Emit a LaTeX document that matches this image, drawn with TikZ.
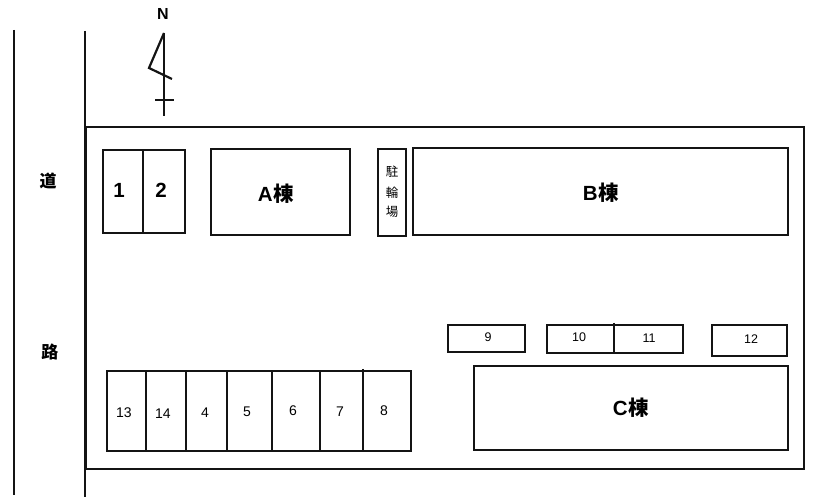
\documentclass[tikz,border=0pt]{standalone}
\usepackage{fontspec}
\usepackage{tikz}
\setmainfont{Liberation Sans}
\newfontfamily\cjk{Noto Sans CJK JP}
\tikzset{wall/.style = {line width = 2.2pt, black!92}}
\tikzset{num/.style = {font = \fontsize{14}{14}\selectfont, inner sep = 0}}
\tikzset{smallnum/.style = {font = \fontsize{12.5}{12.5}\selectfont, inner sep = 0}}
\tikzset{block/.style = {font = \bfseries\fontsize{20.5}{20.5}\selectfont, inner sep = 0}}
\tikzset{road/.style = {font = \cjk\bfseries\fontsize{17}{17}\selectfont, inner sep = 0}}
\tikzset{bike/.style = {font = \cjk\fontsize{12.5}{12.5}\selectfont, inner sep = 0}}

\begin{document}
\begin{tikzpicture}[x=1pt, y=-1pt]
    \useasboundingbox (0, 0) rectangle (820, 502);

    \draw [wall] (14, 30) -- (14, 495);
    \draw [wall] (85, 31) -- (85, 497);
    \draw [wall] (86, 127) rectangle (804, 469);
    \draw [wall] (85, 127) -- (85, 469);

    \node [block, font=\bfseries\fontsize{16}{16}\selectfont] (north) at (163, 14.5) {N};
    \draw [wall] (164, 33) -- (164, 116);
    \draw [wall] (164, 33) -- (149, 68) -- (172, 79);
    \draw [wall] (155, 100) -- (174, 100);

    \node [road] (roadtop) at (48, 181) {道};
    \node [road] (roadbot) at (50, 352) {路};

    \draw [wall] (103, 150) rectangle (185, 233);
    \draw [wall] (143, 150) -- (143, 233);
    \node [block] (lot1) at (119, 190) {1};
    \node [block] (lot2) at (161, 190) {2};

    \draw [wall] (211, 149) rectangle (350, 235);
    \node [block] (blocka) at (276, 194) {A\kern1pt{\cjk 棟}};

    \draw [wall] (378, 149) rectangle (406, 236);
    \node [bike] (bike1) at (392, 172) {駐};
    \node [bike] (bike2) at (392, 193) {輪};
    \node [bike] (bike3) at (392, 212) {場};

    \draw [wall] (413, 148) rectangle (788, 235);
    \node [block] (blockb) at (601, 193) {B\kern1pt{\cjk 棟}};

    \draw [wall] (448, 325) rectangle (525, 352);
    \node [smallnum] (lot9) at (488, 337) {9};
    \draw [wall] (547, 325) rectangle (683, 353);
    \draw [wall] (614, 323) -- (614, 353);
    \node [smallnum] (lot10) at (579, 337) {10};
    \node [smallnum] (lot11) at (649, 338) {11};
    \draw [wall] (712, 325) rectangle (787, 356);
    \node [smallnum] (lot12) at (751, 339) {12};

    \draw [wall] (474, 366) rectangle (788, 450);
    \node [block] (blockc) at (631, 408) {C\kern1pt{\cjk 棟}};

    \draw [wall] (107, 371) rectangle (411, 451);
    \draw [wall] (146, 371) -- (146, 451);
    \draw [wall] (186, 371) -- (186, 451);
    \draw [wall] (227, 371) -- (227, 451);
    \draw [wall] (272, 371) -- (272, 451);
    \draw [wall] (320, 371) -- (320, 451);
    \draw [wall] (363, 369) -- (363, 451);
    \node [num] (lot13) at (124, 413) {13};
    \node [num] (lot14) at (163, 414) {14};
    \node [num] (lot4) at (205, 413) {4};
    \node [num] (lot5) at (247, 412) {5};
    \node [num] (lot6) at (293, 411) {6};
    \node [num] (lot7) at (340, 412) {7};
    \node [num] (lot8) at (384, 411) {8};
\end{tikzpicture}
\end{document}
